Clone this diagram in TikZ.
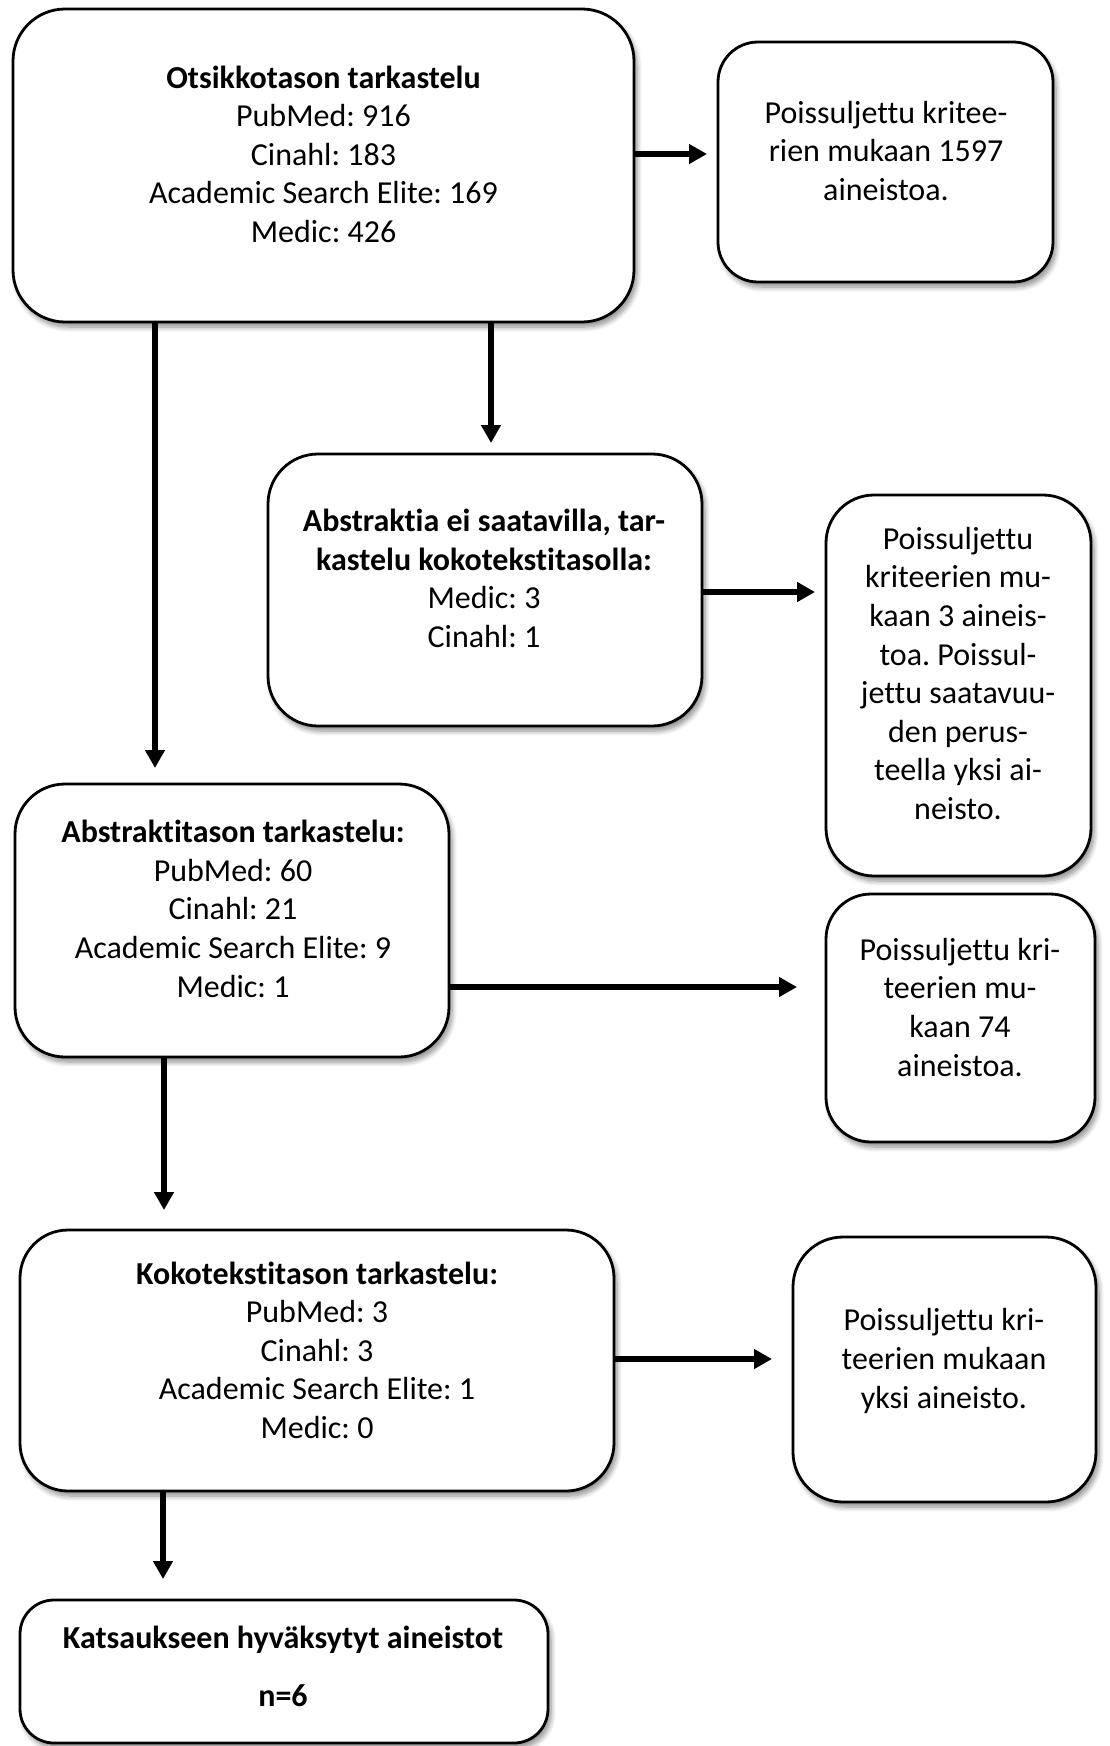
\documentclass[tikz,border=0pt]{standalone}
\usepackage{fontspec}
\setmainfont{Carlito}[Ligatures={NoCommon,NoContextual,NoRequired}]
\usetikzlibrary{arrows.meta,shadows.blur}
\frenchspacing
\tikzset{
  box/.style={draw=black, line width=2.8pt, fill=white, inner sep=0pt,
    blur shadow={shadow xshift=3pt, shadow yshift=-5pt, shadow blur radius=5pt, shadow blur steps=8, shadow opacity=45}},
  txt/.style={align=center, inner sep=0pt, anchor=base, font=\fontsize{32pt}{38.6pt}\selectfont},
  arr/.style={line width=6pt, -{Triangle[length=18pt,width=19pt]}},
  varr/.style={line width=5.5pt, -{Triangle[length=18pt,width=19pt]}}
}
\begin{document}
\begin{tikzpicture}[x=1pt,y=-1pt]
\useasboundingbox (0,0) rectangle (1109,1746);
% boxes
\node[box, minimum width=621pt, minimum height=313pt, rounded corners=52pt] (b1) at (323.5,165.5) {};
\node[box, minimum width=335pt, minimum height=240pt, rounded corners=40pt] (b2) at (885.5,162) {};
\node[box, minimum width=434pt, minimum height=272pt, rounded corners=50pt] (b3) at (485,590) {};
\node[box, minimum width=265pt, minimum height=381pt, rounded corners=48pt] (b4) at (958.5,685.5) {};
\node[box, minimum width=434pt, minimum height=273pt, rounded corners=50pt] (b5) at (232,920.5) {};
\node[box, minimum width=269pt, minimum height=248pt, rounded corners=45pt] (b6) at (960.5,1018) {};
\node[box, minimum width=594pt, minimum height=261pt, rounded corners=48pt] (b7) at (317,1360.5) {};
\node[box, minimum width=303pt, minimum height=265pt, rounded corners=50pt] (b8) at (944.5,1369.5) {};
\node[box, minimum width=528pt, minimum height=143pt, rounded corners=34pt] (b9) at (284,1671.5) {};
% texts (anchor = baseline of the last line)
\node[txt] (t1) at (323.5,242.5) {\textbf{Otsikkotason tarkastelu}\\PubMed: 916\\Cinahl: 183\\Academic Search Elite: 169\\Medic: 426};
\node[txt] (t2) at (886,200.5) {Poissuljettu kritee-\\rien mukaan 1597\\aineistoa.};
\node[txt] (t3) at (484,647.5) {\textbf{Abstraktia ei saatavilla, tar-}\\\textbf{kastelu kokotekstitasolla:}\\Medic: 3\\Cinahl: 1};
\node[txt] (t4) at (958,819.5) {Poissuljettu\\kriteerien mu-\\kaan 3 aineis-\\toa. Poissul-\\jettu saatavuu-\\den perus-\\teella yksi ai-\\neisto.};
\node[txt] (t5) at (233,997) {\textbf{Abstraktitason tarkastelu:}\\PubMed: 60\\Cinahl: 21\\Academic Search Elite: 9\\Medic: 1};
\node[txt] (t6) at (960,1076) {Poissuljettu kri-\\teerien mu-\\kaan 74\\aineistoa.};
\node[txt] (t7) at (317,1438.5) {\textbf{Kokotekstitason tarkastelu:}\\PubMed: 3\\Cinahl: 3\\Academic Search Elite: 1\\Medic: 0};
\node[txt] (t8) at (944,1408) {Poissuljettu kri-\\teerien mukaan\\yksi aineisto.};
\node[txt] (t9) at (283,1706) {\textbf{Katsaukseen hyväksytyt aineistot}\\[19.4pt]\textbf{n=6}};
% arrow ends
\coordinate (e12) at (707,154);
\coordinate (e15) at (155,768);
\coordinate (e13) at (491,443);
\coordinate (e34) at (815,592);
\coordinate (e56) at (797,987);
\coordinate (e57) at (164,1210);
\coordinate (e78) at (772,1359);
\coordinate (e79) at (163,1579);
% arrows
\draw[arr] (b1.east |- e12) -- (e12);
\draw[varr] (b1.south -| e15) -- (e15);
\draw[varr] (b1.south -| e13) -- (e13);
\draw[arr] (b3.east |- e34) -- (e34);
\draw[arr] (b5.east |- e56) -- (e56);
\draw[varr] (b5.south -| e57) -- (e57);
\draw[arr] (b7.east |- e78) -- (e78);
\draw[varr] (b7.south -| e79) -- (e79);
\end{tikzpicture}
\end{document}
